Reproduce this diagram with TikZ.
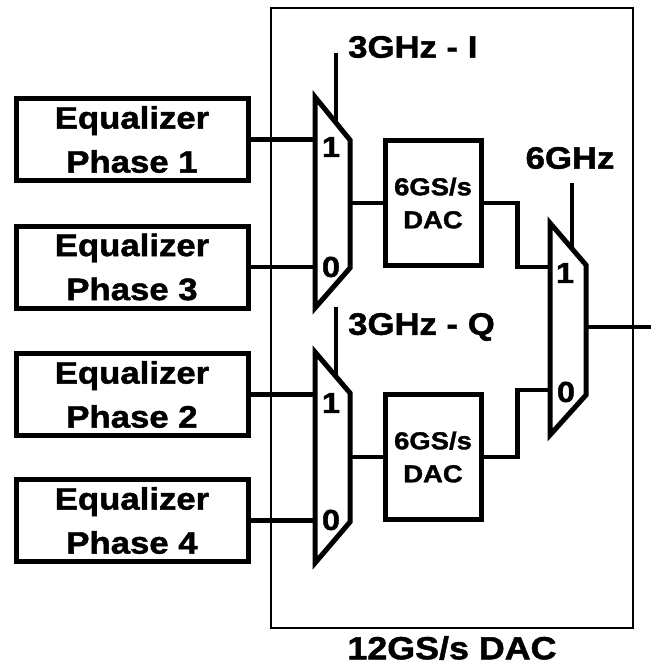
\documentclass[tikz,border=0pt]{standalone}
\usepackage{fontspec}
\setmainfont{Liberation Sans}[FakeStretch=1.12, FakeBold=1.5]
\begin{document}
\begin{tikzpicture}[x=1pt,y=-1pt,
  wire/.style={line width=4.2pt},
  ctrl/.style={line width=4.4pt},
  muxshape/.style={line width=5pt, line join=miter},
  eqbox/.style={draw, line width=5pt, minimum width=232pt, minimum height=82pt, inner sep=0pt, align=center, font=\fontsize{31}{44}\selectfont\bfseries},
  dacbox/.style={draw, line width=5pt, minimum width=96pt, minimum height=125pt, inner sep=0pt, align=center, font=\fontsize{24.5}{33}\selectfont\bfseries},
  biglab/.style={inner sep=0pt, font=\fontsize{31}{36}\selectfont\bfseries},
  sel/.style={inner sep=0pt, font=\fontsize{29}{32}\selectfont\bfseries}]
\useasboundingbox (0,0) rectangle (651,666);
% outer 12GS/s DAC box
\node[draw, line width=1.5pt, minimum width=362pt, minimum height=620pt, inner sep=0pt] (big) at (452,318) {};
\node[biglab, font=\fontsize{32}{36}\selectfont\bfseries] (biglabel) at (452,648) {12GS/s DAC};
% equalizers
\node[eqbox] (eq1) at (132,139.5) {Equalizer\\Phase 1};
\node[eqbox] (eq3) at (132,267) {Equalizer\\Phase 3};
\node[eqbox] (eq2) at (132,394.5) {Equalizer\\Phase 2};
\node[eqbox] (eq4) at (132,520.5) {Equalizer\\Phase 4};
% DACs
\node[dacbox] (dac1) at (433,203) {6GS/s\\DAC};
\node[dacbox] (dac2) at (433,457) {6GS/s\\DAC};
% mux 1
\draw[muxshape] (315,97) -- (350,140) -- (350,268) -- (315,308) -- cycle;
\coordinate (m1a) at (315,139.5);
\coordinate (m1b) at (315,267);
\coordinate (m1o) at (350,203);
\coordinate (m1s) at (336,122.8);
\coordinate (m1c) at (336,53);
\node[sel] (m1one) at (331,147) {1};
\node[sel] (m1zero) at (331,267) {0};
% mux 2
\draw[muxshape] (315,352) -- (350,393) -- (350,522) -- (315,563) -- cycle;
\coordinate (m2a) at (315,394.5);
\coordinate (m2b) at (315,520.5);
\coordinate (m2o) at (350,457);
\coordinate (m2s) at (336,376.6);
\coordinate (m2c) at (336,307);
\node[sel] (m2one) at (331,403) {1};
\node[sel] (m2zero) at (331,520) {0};
% mux 3
\draw[muxshape] (550,223) -- (586,265) -- (586,395) -- (550,435) -- cycle;
\coordinate (m3a) at (550,267);
\coordinate (m3b) at (550,390);
\coordinate (m3o) at (586,327);
\coordinate (m3s) at (572,248.7);
\coordinate (m3c) at (572,183);
\coordinate (out) at (651,327);
\node[sel] (m3one) at (565,273) {1};
\node[sel] (m3zero) at (566,392) {0};
% control labels
\node[biglab, anchor=west] (lI) at (348,47) {3GHz - I};
\node[biglab, anchor=west] (lQ) at (348,327) {3GHz - Q};
\node[biglab] (l6) at (570,158) {6GHz};
% wires
\draw[wire] (eq1.east) -- (m1a);
\draw[wire] (eq3.east) -- (m1b);
\draw[wire] (eq2.east) -- (m2a);
\draw[wire] (eq4.east) -- (m2b);
\draw[wire] (m1o) -- (dac1.west);
\draw[wire] (m2o) -- (dac2.west);
\draw[wire] (dac1.east) -- ++(34,0) |- (m3a);
\draw[wire] (dac2.east) -- ++(34,0) |- (m3b);
\draw[wire, line width=3.6pt] (m3o) -- (out);
\draw[ctrl] (m1c) -- (m1s);
\draw[ctrl] (m2c) -- (m2s);
\draw[ctrl] (m3c) -- (m3s);
\end{tikzpicture}
\end{document}
